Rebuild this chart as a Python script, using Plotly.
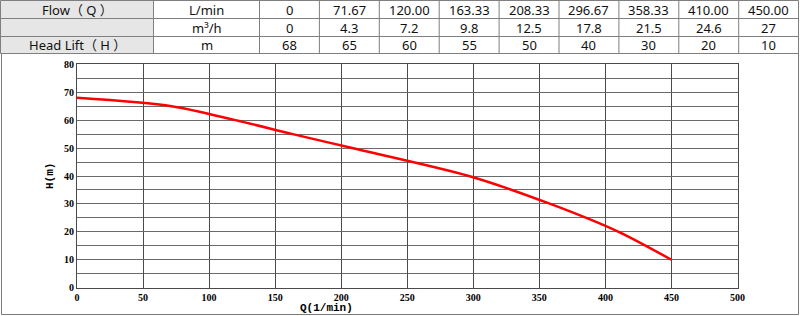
import plotly.graph_objects as go

W, H = 800, 316

# ---- data ----
flow_lmin = [0, 71.67, 120.00, 163.33, 208.33, 296.67, 358.33, 410.00, 450.00]
flow_m3h = [0, 4.3, 7.2, 9.8, 12.5, 17.8, 21.5, 24.6, 27]
head_m = [68, 65, 60, 55, 50, 40, 30, 20, 10]

row_labels = ["Flow（ Q ）", "", "Head Lift（ H ）"]
unit_labels = ["L/min", "m³/h", "m"]
flow_lmin_text = ["0", "71.67", "120.00", "163.33", "208.33", "296.67", "358.33", "410.00", "450.00"]
flow_m3h_text = ["0", "4.3", "7.2", "9.8", "12.5", "17.8", "21.5", "24.6", "27"]
head_text = ["68", "65", "60", "55", "50", "40", "30", "20", "10"]

x_ticks = [0, 50, 100, 150, 200, 250, 300, 350, 400, 450, 500]
y_ticks = [0, 10, 20, 30, 40, 50, 60, 70, 80]

# ---- geometry (pixels) ----
px_left, px_right = 77, 737.5
py_top, py_bottom = 64.3, 287.7
col_w = [153, 106] + [59.9] * len(flow_lmin_text)
row_y = [0.5, 18.5, 36.5, 53.5]

def fx(px):
    return px / W

def fy(py):
    return (H - py) / H

fig = go.Figure()

# curve
fig.add_trace(go.Scatter(
    x=flow_lmin, y=head_m, mode="lines",
    line=dict(color="#ff0000", width=2.5, shape="spline", smoothing=0.8),
    showlegend=False, hoverinfo="skip",
))

# ---- table built from the arrays ----
shapes = []
annotations = []
table_rows = [
    [row_labels[0], unit_labels[0]] + flow_lmin_text,
    [row_labels[1], unit_labels[1]] + flow_m3h_text,
    [row_labels[2], unit_labels[2]] + head_text,
]
col_x = [0.5]
for w in col_w:
    col_x.append(col_x[-1] + w)
col_x[-1] = 798.5
line_col = "#7f7f7f"
tfont = dict(family="Noto Sans, Open Sans, Noto Sans CJK SC", size=13, color="#111111")
# grey first column
shapes.append(dict(type="rect", xref="paper", yref="paper", x0=fx(col_x[0]), x1=fx(col_x[1]),
                   y0=fy(row_y[-1]), y1=fy(row_y[0]), fillcolor="#e6e6e6",
                   line=dict(width=0), layer="below"))
for yy in row_y:
    shapes.append(dict(type="line", xref="paper", yref="paper", x0=fx(col_x[0]), x1=fx(col_x[-1]),
                       y0=fy(yy), y1=fy(yy), line=dict(color=line_col, width=1)))
for xx in col_x:
    shapes.append(dict(type="line", xref="paper", yref="paper", x0=fx(xx), x1=fx(xx),
                       y0=fy(row_y[0]), y1=fy(row_y[-1]), line=dict(color=line_col, width=1)))
for r, row in enumerate(table_rows):
    yc = (row_y[r] + row_y[r + 1]) / 2
    for c, txt in enumerate(row):
        if not txt:
            continue
        xc = (col_x[c] + col_x[c + 1]) / 2
        annotations.append(dict(text=txt, xref="paper", yref="paper", x=fx(xc), y=fy(yc),
                                showarrow=False, xanchor="center", yanchor="middle",
                                font=tfont))

# outer frame of the chart area
shapes.append(dict(type="rect", xref="paper", yref="paper",
                   x0=fx(1.5), x1=fx(798.5), y0=fy(314.5), y1=fy(53.5),
                   line=dict(color="#7a7a7a", width=1), fillcolor="rgba(0,0,0,0)", layer="below"))

titlefont = dict(family="Liberation Mono, DejaVu Sans Mono, monospace", size=11,
                 color="#000000", weight="bold")
annotations.append(dict(text="Q(1/min)", xref="paper", yref="paper", x=fx(326), y=fy(307.5),
                        showarrow=False, xanchor="center", yanchor="middle", font=titlefont))
annotations.append(dict(text="H(m)", xref="paper", yref="paper", x=fx(50), y=fy(176),
                        showarrow=False, textangle=-90, xanchor="center", yanchor="middle",
                        font=titlefont))

tickfont = dict(family="Liberation Serif, DejaVu Serif, serif", size=10, color="#000000", weight="bold")
fig.update_layout(
    width=W, height=H, margin=dict(l=0, r=0, t=0, b=0),
    paper_bgcolor="white", plot_bgcolor="white", showlegend=False,
    xaxis=dict(domain=[fx(px_left), fx(px_right)], range=[0, 500], tickvals=x_ticks,
               showgrid=True, gridcolor="#4a4a4a", gridwidth=1,
               showline=True, linecolor="#4a4a4a", linewidth=1, mirror=True,
               zeroline=False, ticks="", tickfont=tickfont, fixedrange=True, automargin=False),
    yaxis=dict(domain=[fy(py_bottom), fy(py_top)], range=[0, 80], tickvals=y_ticks,
               showgrid=True, gridcolor="#6a6a6a", gridwidth=1,
               minor=dict(dtick=5, showgrid=True, gridcolor="#6a6a6a", gridwidth=1),
               showline=True, linecolor="#4a4a4a", linewidth=1, mirror=True,
               zeroline=False, ticks="", tickfont=tickfont, fixedrange=True, automargin=False),
    shapes=shapes,
    annotations=annotations,
)

fig.write_html("out.html")
